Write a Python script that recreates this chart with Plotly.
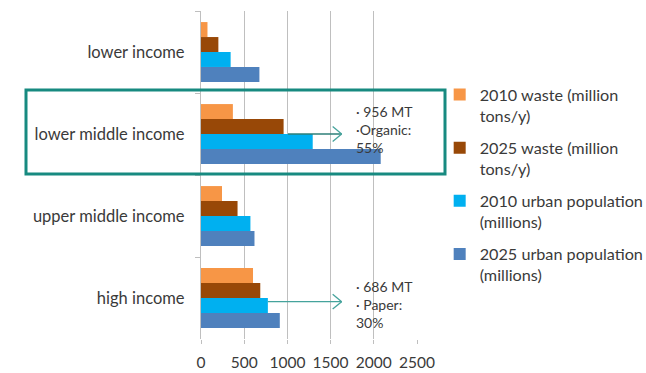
import plotly.graph_objects as go

# Income groups (top to bottom) and series values
categories = ["lower income", "lower middle income", "upper middle income", "high income"]
series_names = [
    "2010 waste (million<br>tons/y)",
    "2025 waste (million<br>tons/y)",
    "2010 urban population<br>(millions)",
    "2025 urban population<br>(millions)",
]
waste_2010 = [75, 369, 243, 602]
waste_2025 = [201, 956, 423, 686]
urban_2010 = [343, 1293, 572, 774]
urban_2025 = [676, 2080, 619, 912]
series_values = [waste_2010, waste_2025, urban_2010, urban_2025]
series_colors = ["#F79646", "#984807", "#00B0F0", "#4F81BD"]

x_ticks = [0, 500, 1000, 1500, 2000, 2500]

# Callout notes: (category index, series index, text)
callouts = [
    (1, 1, "· 956 MT<br>·Organic:<br>55%"),
    (3, 2, "· 686 MT<br>· Paper:<br>30%"),
]

FONT = "Lato, 'Open Sans', sans-serif"
TEXT = "#3A3A3A"
GRID = "#BFBFBF"
TEAL = "#45A39C"
TEAL_DARK = "#2E7F79"

fig = go.Figure()
for i, (name, vals, col) in enumerate(zip(series_names, series_values, series_colors)):
    fig.add_trace(go.Bar(
        y=categories, x=vals, name=name, orientation="h",
        marker=dict(color=col, line=dict(width=0)),
        legendgroup=f"g{i}",
    ))

shapes = []
annotations = []
tip_x = 1628
arm_dx = 104
arm_dy = 0.09
shaft_offsets = {1: (50, 0.0, TEAL_DARK), 3: (0, 0.045, TEAL)}
for cat_i, ser_i, text in callouts:
    start_pad, dy, shaft_col = shaft_offsets[cat_i]
    y0 = cat_i + dy
    x_start = series_values[ser_i][cat_i] + start_pad
    shapes.append(dict(type="line", xref="x", yref="y", x0=x_start, x1=tip_x, y0=y0, y1=y0,
                       line=dict(color=shaft_col, width=1.3)))
    for s in (-1, 1):
        shapes.append(dict(type="line", xref="x", yref="y", x0=tip_x - arm_dx, x1=tip_x,
                           y0=y0 + s * arm_dy, y1=y0, line=dict(color=TEAL, width=1.3)))
    annotations.append(dict(
        x=1765, y=cat_i + (-0.05 if cat_i == 1 else 0.085), xref="x", yref="y",
        text=text, showarrow=False, xanchor="left", yanchor="middle", align="left",
        font=dict(family=FONT, size=14, color=TEXT),
    ))

# Highlight frame around the lower middle income group
shapes.append(dict(type="rect", xref="paper", yref="paper",
                   x0=(26 - 201) / 216, x1=(445 - 201) / 216,
                   y0=(339 - 174) / 328, y1=(339 - 90) / 328,
                   line=dict(color="#178A80", width=3), fillcolor="rgba(0,0,0,0)", layer="above"))

fig.update_layout(
    width=646, height=373,
    margin=dict(l=201, r=229, t=11, b=34, autoexpand=False),
    paper_bgcolor="white", plot_bgcolor="white",
    barmode="group", bargap=0.27, bargroupgap=0,
    font=dict(family=FONT, size=15, color=TEXT),
    showlegend=True,
    legend=dict(
        x=1.105, y=0.797, xanchor="left", yanchor="top",
        font=dict(family=FONT, size=16.2, color=TEXT),
        valign="top", tracegroupgap=8, itemwidth=30,
        bgcolor="rgba(0,0,0,0)",
    ),
    xaxis=dict(
        range=[0, 2500], tickvals=x_ticks, showgrid=True, gridcolor=GRID, gridwidth=1.3,
        zeroline=False, showline=False, ticks="outside", ticklen=4, tickcolor=GRID,
        tickfont=dict(size=15.5, color=TEXT), ticklabelstandoff=5, fixedrange=True,
    ),
    yaxis=dict(
        type="category", categoryorder="array", categoryarray=categories,
        autorange="reversed", showgrid=False, zeroline=False,
        showline=True, linecolor=GRID, linewidth=1.3,
        ticks="outside", tickson="boundaries", ticklen=5, tickcolor=GRID,
        tickfont=dict(size=16.5, color=TEXT), ticklabelstandoff=12,
    ),
    shapes=shapes,
    annotations=annotations,
)

fig.write_html("out.html")
